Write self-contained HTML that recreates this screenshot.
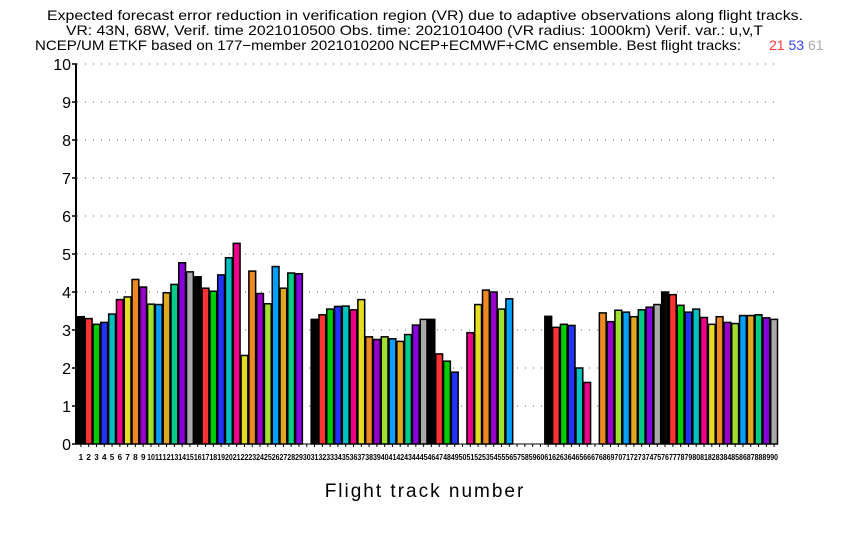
<!DOCTYPE html>
<html><head><meta charset="utf-8"><style>
body{margin:0;background:#fff;}
svg{display:block;font-family:"Liberation Sans",sans-serif;}
</style></head><body>
<svg id="chart" width="850" height="540" xmlns="http://www.w3.org/2000/svg">
<g font-size="14" fill="#000">
<text x="47" y="20" textLength="756" lengthAdjust="spacingAndGlyphs">Expected forecast error reduction in verification region (VR) due to adaptive observations along flight tracks.</text>
<text x="66" y="35" textLength="697" lengthAdjust="spacingAndGlyphs">VR: 43N, 68W, Verif. time 2021010500 Obs. time: 2021010400 (VR radius: 1000km)  Verif. var.: u,v,T</text>
<text x="35" y="50" textLength="706" lengthAdjust="spacingAndGlyphs">NCEP/UM ETKF based on 177−member 2021010200 NCEP+ECMWF+CMC ensemble. Best flight tracks:</text>
<text x="769" y="50"><tspan fill="#ff3333">21</tspan> <tspan fill="#3344ff">53</tspan> <tspan fill="#aaaaaa">61</tspan></text>
</g>
<g id="grid"></g>
<g id="yticks"></g>
<g id="bars"></g>
<g id="xticks"></g>
<text x="425" y="497" font-size="19" text-anchor="middle" letter-spacing="2">Flight track number</text>
</svg>
<script>
const values=[3.35,3.3,3.15,3.2,3.42,3.8,3.87,4.33,4.13,3.68,3.67,3.98,4.2,4.77,4.53,4.4,4.1,4.02,4.45,4.9,5.28,2.33,4.55,3.96,3.69,4.67,4.1,4.5,4.48,0,
3.28,3.4,3.55,3.62,3.63,3.53,3.8,2.82,2.75,2.82,2.77,2.7,2.88,3.13,3.28,3.28,2.37,2.18,1.89,0,2.93,3.67,4.05,4.0,3.55,3.82,0,0,0,0,
3.36,3.07,3.15,3.12,2.0,1.62,0,3.45,3.22,3.52,3.47,3.35,3.53,3.6,3.67,4.0,3.93,3.65,3.47,3.55,3.33,3.15,3.35,3.2,3.17,3.38,3.38,3.4,3.32,3.28];
const categories=values.map((v,i)=>String(i+1));
const yTicks=[0,1,2,3,4,5,6,7,8,9,10];
const palette=["#000000","#ff3333","#00cc00","#2233ff","#00c0c0","#ee0088","#e6dd22","#ee8822","#9900cc","#a0e030","#00a0ff","#e0a820","#00cc88","#8800dd","#aaaaaa"];
const X0=77,X1=778,Y0=444,Y1=64,VMAX=10;
const bw=(X1-X0)/categories.length;
const y=v=>Y0-(v/VMAX)*(Y0-Y1);
const x=i=>X0+i*bw;
const NS="http://www.w3.org/2000/svg";
function mk(t,a){const e=document.createElementNS(NS,t);for(const k in a)e.setAttribute(k,a[k]);return e;}
const grid=document.getElementById('grid'),yt=document.getElementById('yticks'),bars=document.getElementById('bars'),xt=document.getElementById('xticks');
yTicks.forEach(t=>{
  if(t>0){const l=mk('line',{x1:X0,x2:X1,y1:y(t),y2:y(t),stroke:'#666','stroke-dasharray':'1,7','stroke-width':1});
  
  
  grid.appendChild(l);}
  const tk=mk('line',{x1:X0-5,x2:X0,y1:y(t),y2:y(t),stroke:'#000','stroke-width':1.5});
  
  
  yt.appendChild(tk);
  const tx=mk('text',{x:X0-6,y:y(t)+6,'font-size':16,'text-anchor':'end'});
  tx.textContent=t;
  
  
  yt.appendChild(tx);
});
const ax=mk('line',{x1:X0-1,x2:X0-1,y1:Y1,y2:Y0,stroke:'#000','stroke-width':2});


yt.appendChild(ax);
values.forEach((v,i)=>{
  if(v>0){const r=mk('rect',{x:x(i)+0.5,y:y(v),width:bw-1,height:Y0-y(v),fill:palette[i%15],stroke:'#000','stroke-width':1.5});
  
  
  bars.appendChild(r);}
  const tk=mk('line',{x1:x(i)+bw/2,x2:x(i)+bw/2,y1:Y0,y2:Y0+3,stroke:'#000'});
  
  
  xt.appendChild(tk);
  const tx=mk('text',{x:x(i)+bw/2,y:Y0+16,'font-size':8,'font-weight':'bold','text-anchor':'middle',textLength:Math.min(bw,categories[i].length*4.5),lengthAdjust:'spacingAndGlyphs'});
  tx.textContent=categories[i];
  
  
  xt.appendChild(tx);
});
const bx=mk('line',{x1:X0-1,x2:X1,y1:Y0,y2:Y0,stroke:'#000','stroke-width':1});


xt.appendChild(bx);
</script>
</body></html>
